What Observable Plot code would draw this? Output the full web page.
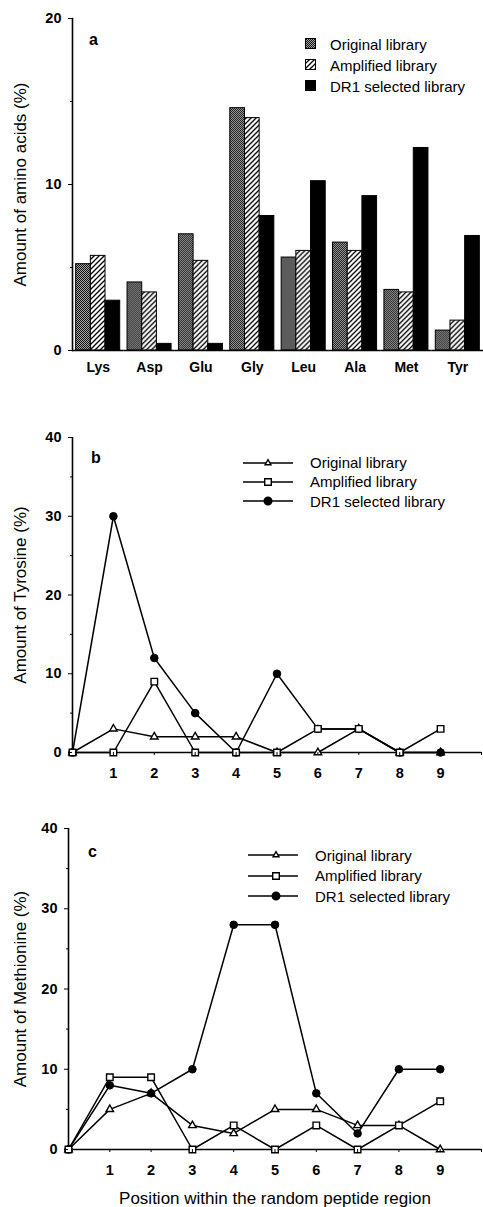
<!DOCTYPE html>
<html><head><meta charset="utf-8">
<script src="https://cdn.jsdelivr.net/npm/d3@7"></script>
<script src="https://cdn.jsdelivr.net/npm/@observablehq/plot@0.6"></script>
<style>
body{margin:0;background:#fff;font-family:"Liberation Sans",Arial,Helvetica,sans-serif;color:#000}
#wrap{position:relative;width:483px;height:1207px;overflow:hidden;background:#fff}
.panel{position:absolute;left:0}
.letter{position:absolute;font-weight:bold;font-size:16px;line-height:16px}
.lrow{position:absolute;display:flex;align-items:center;font-size:15px;white-space:nowrap}
.lrow svg{display:block}
svg g[aria-label="y-axis label"], svg g[aria-label="x-axis label"]{font-weight:normal;font-size:17px}
</style></head><body><div id="wrap"></div>
<script>
// ---------- data ----------
const aminoAcids = ["Lys","Asp","Glu","Gly","Leu","Ala","Met","Tyr"];
const libraries = ["Original library","Amplified library","DR1 selected library"];
const originalAA  = [5.2, 4.1, 7.0, 14.6, 5.6, 6.5, 3.65, 1.2];
const amplifiedAA = [5.7, 3.5, 5.4, 14.0, 6.0, 6.0, 3.5, 1.8];
const selectedAA  = [3.0, 0.4, 0.4, 8.1, 10.2, 9.3, 12.2, 6.9];

const positions = [0,1,2,3,4,5,6,7,8,9];
const tyrOriginal  = [0, 3, 2, 2, 2, 0, 0, 3, 0, 0];
const tyrAmplified = [0, 0, 9, 0, 0, 0, 3, 3, 0, 3];
const tyrSelected  = [0,30,12, 5, 0,10, 3, 3, 0, 0];
const metOriginal  = [0, 5, 7, 3, 2, 5, 5, 3, 3, 0];
const metAmplified = [0, 9, 9, 0, 3, 0, 3, 0, 3, 6];
const metSelected  = [0, 8, 7,10,28,28, 7, 2,10,10];

const yTicksA = [0,10,20], yMinorA = [5,15];
const yTicksBC = [0,10,20,30,40], yMinorBC = [5,15,25,35];
const xTicksBC = [1,2,3,4,5,6,7,8,9];

const FONT = "Liberation Sans, Arial, Helvetica, sans-serif";
const wrap = document.getElementById("wrap");

function addDefs(svg){
  const defs = d3.select(svg).insert("defs", ":first-child");
  const st = defs.append("pattern").attr("id","stipple").attr("width",2).attr("height",2).attr("patternUnits","userSpaceOnUse");
  st.append("rect").attr("width",2).attr("height",2).attr("fill","#a8a8a8");
  st.append("rect").attr("width",1).attr("height",1).attr("fill","#111");
  st.append("rect").attr("x",1).attr("y",1).attr("width",1).attr("height",1).attr("fill","#111");
  const h = defs.append("pattern").attr("id","hatch").attr("width",5).attr("height",5).attr("patternUnits","userSpaceOnUse");
  h.append("rect").attr("width",5).attr("height",5).attr("fill","#fff");
  h.append("path").attr("d","M-1,1 l2,-2 M0,5 l5,-5 M4,6 l2,-2").attr("stroke","#000").attr("stroke-width",1.3);
}

function place(node, top){ node.classList.add("panel"); node.style.top = top + "px"; wrap.appendChild(node); return node; }
function letter(t, left, top){ const d=document.createElement("div"); d.className="letter"; d.textContent=t; d.style.left=left+"px"; d.style.top=top+"px"; wrap.appendChild(d); }

// ---------- panel a ----------
const barData = aminoAcids.flatMap((aa,i)=>[
  {aa, lib:libraries[0], v:originalAA[i]},
  {aa, lib:libraries[1], v:amplifiedAA[i]},
  {aa, lib:libraries[2], v:selectedAA[i]}
]);
const fills = ["url(#stipple)","url(#hatch)","#000"];

const plotA = Plot.plot({
  width:483, height:385, marginTop:18, marginBottom:35, marginLeft:72, marginRight:0,
  style:{fontFamily:FONT, fontSize:"14px", color:"#000", background:"#fff"},
  fx:{domain:aminoAcids, padding:0, round:false},
  x:{domain:libraries, paddingInner:0, paddingOuter:0.25, round:false, axis:null},
  y:{domain:[0,20]},
  color:{domain:libraries, range:fills},
  marks:[
    Plot.barY(barData, {fx:"aa", x:"lib", y:"v", fill:"lib", stroke:"#000", strokeWidth:1}),
    Plot.ruleY([0], {strokeWidth:1.6}),
    Plot.frame({anchor:"left", facetAnchor:"left", strokeWidth:1.6}),
    Plot.axisY({ticks:yTicksA, tickSize:4, tickPadding:7, fontWeight:"bold", fontSize:14.5, label:"Amount of amino acids (%)", labelAnchor:"center", labelArrow:"none", labelOffset:59}),
    Plot.axisY({ticks:yMinorA, tickSize:2, tickFormat:()=>"", label:null}),
    Plot.axisFx({anchor:"bottom", tickSize:0, tickPadding:12, fontWeight:"bold", fontSize:14, label:null})
  ]
});
addDefs(plotA);
place(plotA, 0);
letter("a", 89, 32);

// legend a
libraries.forEach((lib,k)=>{
  const row=document.createElement("div"); row.className="lrow";
  row.style.left="305px"; row.style.top=(34+k*21)+"px"; row.style.height="20px";
  row.innerHTML=`<svg width="12" height="12"><rect x="0.5" y="0.5" width="10" height="10" fill="${fills[k]}" stroke="#000" stroke-width="1"/></svg><span style="margin-left:13px">${lib}</span>`;
  wrap.appendChild(row);
});

// ---------- panels b & c ----------
const rr = [2.8, 3.7, 3.8];
function symPath(k){
  const t = k===0 ? (d3.symbolTriangle2||d3.symbolTriangle) : k===1 ? d3.symbolSquare : d3.symbolCircle;
  return d3.symbol(t, Math.PI*rr[k]*rr[k])();
}

function linePanel({top, height, mt, mb, ml, mr, series, ylabel, yOff, xlabel}){
  const data = libraries.flatMap((lib,k)=>positions.map((p,i)=>({lib, pos:p, v:series[k][i]})));
  const of = k => data.filter(d=>d.lib===libraries[k]);
  const svg = Plot.plot({
    width:483, height, marginTop:mt, marginBottom:mb, marginLeft:ml, marginRight:mr,
    style:{fontFamily:FONT, fontSize:"14.5px", color:"#000", background:"#fff"},
    x:{domain:[0,10]},
    y:{domain:[0,40]},
    marks:[
      Plot.ruleY([0], {strokeWidth:1.6}),
      Plot.ruleX([0], {strokeWidth:1.6}),
      Plot.line(data, {x:"pos", y:"v", z:"lib", stroke:"#000", strokeWidth:1.5}),
      Plot.dot(of(0), {x:"pos", y:"v", symbol:"triangle", r:rr[0], fill:"#fff", stroke:"#000", strokeWidth:1.4}),
      Plot.dot(of(2), {x:"pos", y:"v", symbol:"circle", r:rr[2], fill:"#000", stroke:"#000", strokeWidth:1}),
      Plot.dot(of(1), {x:"pos", y:"v", symbol:"square", r:rr[1], fill:"#fff", stroke:"#000", strokeWidth:1.4}),
      Plot.axisY({ticks:yTicksBC, tickSize:4, tickPadding:7, fontWeight:"bold", label:ylabel, labelAnchor:"center", labelArrow:"none", labelOffset:yOff}),
      Plot.axisY({ticks:yMinorBC, tickSize:2, tickFormat:()=>"", label:null}),
      Plot.axisX({ticks:xTicksBC, tickSize:3, tickPadding:12, fontWeight:"bold",
        label: xlabel ?? null, labelAnchor:"center", labelArrow:"none", labelOffset:54}),
      Plot.axisX({ticks:[10], tickSize:3, tickFormat:()=>"", label:null})
    ]
  });
  return place(svg, top);
}

function lineLegend(lineLeft, lineW, markX, textLeft, tops){
  libraries.forEach((lib,k)=>{
    const row=document.createElement("div"); row.className="lrow";
    row.style.left=lineLeft+"px"; row.style.top=tops[k]+"px"; row.style.height="18px";
    const fill = k===2 ? "#000" : "#fff";
    row.innerHTML=`<svg width="${lineW}" height="18"><line x1="0" x2="${lineW}" y1="9" y2="9" stroke="#000" stroke-width="1.5"/><path transform="translate(${markX},9)" d="${symPath(k)}" fill="${fill}" stroke="#000" stroke-width="1.4"/></svg><span style="position:absolute;left:${textLeft-lineLeft}px">${lib}</span>`;
    wrap.appendChild(row);
  });
}

linePanel({top:390, height:395, mt:47, mb:33, ml:72, mr:2,
  series:[tyrOriginal, tyrAmplified, tyrSelected], ylabel:"Amount of Tyrosine (%)", yOff:59});
letter("b", 91, 450);
lineLegend(243, 50, 25, 310, [453.5, 472.5, 492]);

linePanel({top:790, height:417, mt:38, mb:58, ml:68, mr:2,
  series:[metOriginal, metAmplified, metSelected], ylabel:"Amount of Methionine (%)", yOff:55,
  xlabel:"Position within the random peptide region"});
letter("c", 88, 844);
lineLegend(248, 50, 28, 315, [846, 866.5, 887]);
</script></body></html>
